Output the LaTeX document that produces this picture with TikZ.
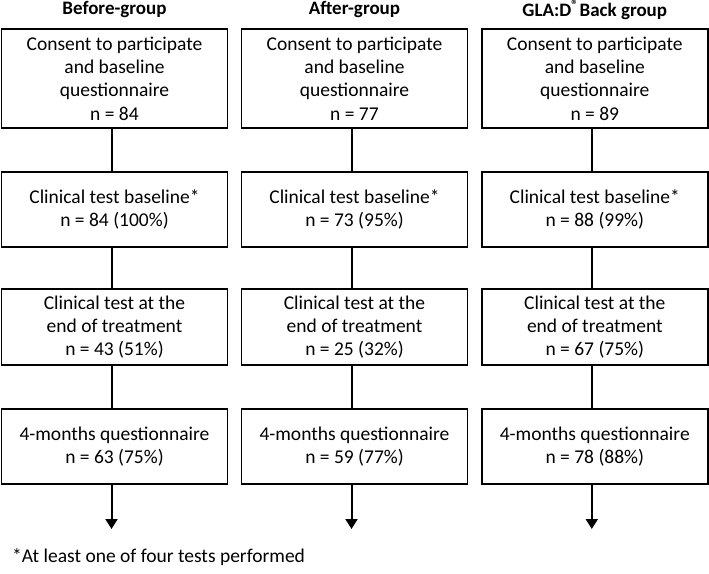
\documentclass[tikz,border=0pt]{standalone}
\usepackage{fontspec}
\setmainfont{Carlito}
\usetikzlibrary{arrows.meta}
\begin{document}
\begin{tikzpicture}[x=1pt,y=-1pt,
  box/.style={draw=black,line width=1.8pt,minimum width=226pt,align=center,inner sep=0pt,
    font=\fontsize{19.5}{23.3}\selectfont},
  title/.style={font=\fontsize{19}{21}\selectfont\bfseries},
  conn/.style={line width=2pt},
  arr/.style={line width=2pt,-{Triangle[width=12pt,length=10pt]}}]
\useasboundingbox (0,0) rectangle (709,573);
\foreach \c/\x/\t/\a/\b/\cc/\d in {
  A/114.5/Before-group/84/84 (100\%)/43 (51\%)/63 (75\%),
  B/354.5/After-group/77/73 (95\%)/25 (32\%)/59 (77\%),
  C/594.8/{GLA:D\textsuperscript{®}\kern1pt Back group}/89/88 (99\%)/67 (75\%)/78 (88\%)} {
  \node[title] (\c t) at (\x,10) {\t};
  \node[box,minimum height=99pt] (\c1) at (\x,78.5) {Consent to participate\\and baseline\\questionnaire\\n = \a};
  \node[box,minimum height=75pt] (\c2) at (\x,209.5) {Clinical test baseline*\\n = \b};
  \node[box,minimum height=76pt] (\c3) at (\x,327) {Clinical test at the\\end of treatment\\n = \cc};
  \node[box,minimum height=75pt] (\c4) at (\x,446.5) {4-months questionnaire\\n = \d};
  \coordinate (\c e) at ([xshift=-3pt]\x,529);
  \draw[conn] ([xshift=-3pt]\c1.south) -- ([xshift=-3pt]\c2.north);
  \draw[conn] ([xshift=-3pt]\c2.south) -- ([xshift=-3pt]\c3.north);
  \draw[conn] ([xshift=-3pt]\c3.south) -- ([xshift=-3pt]\c4.north);
  \draw[arr] ([xshift=-3pt]\c4.south) -- (\c e);
}
\node[anchor=west,inner sep=0pt,font=\fontsize{19.5}{21}\selectfont] (fn) at (12,557) {*At least one of four tests performed};
\end{tikzpicture}
\end{document}
